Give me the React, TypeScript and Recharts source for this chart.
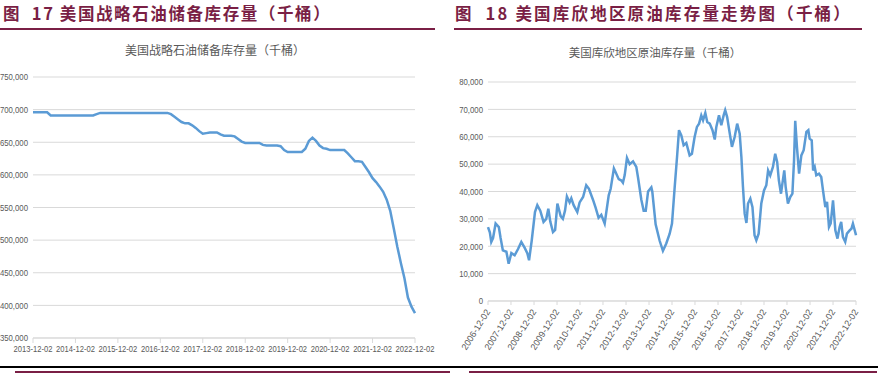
import { CartesianGrid, Line, LineChart, XAxis, YAxis } from "recharts";

const MAROON = "#7a1f45";
const LINE_BLUE = "#5b9bd5";
const GRID = "#d9d9d9";
const TICK_FONT = "'Liberation Sans', Arial, sans-serif";
const CJK_FONT = "'Noto Sans CJK SC', 'Noto Sans', sans-serif";

const SPR_HEADING = "图  17 美国战略石油储备库存量（千桶）";
const SPR_TITLE = "美国战略石油储备库存量（千桶）";
const CUSHING_HEADING = "图  18 美国库欣地区原油库存量走势图（千桶）";
const CUSHING_TITLE = "美国库欣地区原油库存量（千桶）";

// monthly, starting 2013-12-02 (thousand barrels)
const SPR_START = { year: 2013, month: 11 };
const SPR_VALUES = [
  696000,
  696000, 696000, 696000, 696000, 691000, 691000, 691000, 691000, 691000, 691000, 691000, 691000,
  691000, 691000, 691000, 691000, 691000, 693000, 695000, 695000, 695000, 695000, 695000, 695000,
  695000, 695000, 695000, 695000, 695000, 695000, 695000, 695000, 695000, 695000, 695000, 695000,
  695000, 695000, 693000, 689000, 685000, 681000, 679000, 679000, 676000, 672000, 667000, 663000,
  664000, 665000, 665000, 665000, 662000, 660000, 660000, 660000, 659000, 655000, 651000, 649000,
  649000, 649000, 649000, 649000, 646000, 645000, 645000, 645000, 645000, 644000, 638000, 635000,
  635000, 635000, 635000, 635000, 640000, 652000, 657000, 652000, 645000, 641000, 640000, 638000,
  638000, 638000, 638000, 638000, 633000, 627000, 621000, 621000, 620000, 612000, 604000, 595000,
  589000, 582000, 574000, 562000, 545000, 518000, 490000, 465000, 442000, 412000, 398000, 388000,
];
const SPR_Y_TICKS = [350000, 400000, 450000, 500000, 550000, 600000, 650000, 700000, 750000];

const CUSHING_DATES = [
  "2006-12-02", "2007-01-01", "2007-01-23", "2007-02-20", "2007-04-02", "2007-05-23", "2007-06-20",
  "2007-07-26", "2007-09-20", "2007-10-26", "2007-12-08", "2008-01-29", "2008-03-23", "2008-05-14",
  "2008-07-05", "2008-08-17", "2008-09-14", "2008-10-26", "2008-12-17", "2009-01-23", "2009-03-11",
  "2009-05-02", "2009-06-14", "2009-07-17", "2009-08-17", "2009-09-29", "2009-11-02", "2009-12-08",
  "2010-01-29", "2010-03-05", "2010-04-08", "2010-05-08", "2010-06-20", "2010-07-17", "2010-08-23",
  "2010-10-20", "2010-11-26", "2011-01-20", "2011-03-11", "2011-04-23", "2011-06-26", "2011-08-08",
  "2011-09-23", "2011-11-05", "2011-12-29", "2012-03-02", "2012-04-02", "2012-05-23", "2012-06-20",
  "2012-08-08", "2012-09-20", "2012-10-14", "2012-11-11", "2012-12-17", "2013-01-29", "2013-03-23",
  "2013-05-14", "2013-06-11", "2013-08-02", "2013-09-08", "2013-10-11", "2013-11-17", "2014-01-08",
  "2014-01-23", "2014-03-17", "2014-05-20", "2014-07-11", "2014-09-02", "2014-10-26", "2014-12-02",
  "2015-01-14", "2015-02-20", "2015-03-23", "2015-04-29", "2015-06-05", "2015-07-17", "2015-09-08",
  "2015-10-14", "2015-11-26", "2016-01-02", "2016-02-05", "2016-03-11", "2016-04-08", "2016-05-14",
  "2016-06-14", "2016-07-23", "2016-09-05", "2016-10-11", "2016-11-05", "2016-12-17", "2017-01-23",
  "2017-03-01", "2017-03-26", "2017-04-26", "2017-06-02", "2017-07-11", "2017-08-23", "2017-10-02",
  "2017-11-11", "2017-12-08", "2018-01-02", "2018-01-29", "2018-02-26", "2018-03-23", "2018-04-29",
  "2018-06-02", "2018-07-05", "2018-08-02", "2018-09-08", "2018-10-20", "2018-12-02", "2019-01-08",
  "2019-02-05", "2019-03-11", "2019-04-23", "2019-05-29", "2019-06-29", "2019-07-26", "2019-08-29",
  "2019-09-20", "2019-10-20", "2019-11-11", "2019-12-17", "2020-01-23", "2020-02-26", "2020-03-23",
  "2020-04-11", "2020-05-08", "2020-06-11", "2020-07-17", "2020-08-23", "2020-10-05", "2020-11-05",
  "2020-11-26", "2020-12-29", "2021-01-20", "2021-02-14", "2021-03-11", "2021-04-23", "2021-05-29",
  "2021-06-26", "2021-08-02", "2021-08-29", "2021-09-29", "2021-10-26", "2021-12-02", "2022-01-08",
  "2022-02-11", "2022-03-17", "2022-04-11", "2022-05-08", "2022-06-14", "2022-07-11", "2022-08-23",
  "2022-09-20", "2022-10-14", "2022-11-26", "2022-12-02",
];
const CUSHING_VALUES = [
  27000, 25000, 21600, 23000, 28300, 27000, 23000,
  18500, 18000, 13600, 17500, 16700, 19000, 21600,
  19500, 17500, 14900, 22000, 32500, 35000, 33000,
  28900, 30000, 33700, 29000, 25200, 26000, 35600,
  31000, 30000, 33000, 38200, 36000, 37500, 35000,
  32500, 36000, 38000, 42300, 41000, 37000, 34000,
  30400, 31500, 28300, 38600, 41000, 48400, 47000,
  44500, 44000, 43200, 46000, 52300, 50000, 51000,
  49000, 45000, 37000, 33000, 33000, 40000, 41500,
  40000, 28000, 22000, 18300, 21000, 24600, 28300,
  41700, 52600, 62400, 60500, 56900, 57700, 53200,
  53800, 59900, 63600, 64800, 67800, 66000, 68700,
  65400, 64800, 62400, 59000, 63600, 67800, 64200,
  67800, 69700, 67200, 61800, 56300, 59900, 64800,
  61100, 52600, 41700, 31900, 28500, 35600, 37400,
  34300, 24000, 22200, 24600, 35600, 40400, 42300,
  47700, 45900, 49000, 53800, 50800, 44100, 39200,
  42900, 47700, 41700, 35600, 38000, 39200, 51400,
  65800, 56300, 46500, 53200, 55100, 61800, 62400,
  59300, 58700, 47700, 49000, 45900, 46500, 45300,
  40400, 34300, 36200, 27000, 28300, 36800, 25800,
  22800, 27000, 28900, 23400, 21600, 24600, 25800,
  26400, 28300, 24600, 24000,
];
const CUSHING_Y_TICKS = [0, 10000, 20000, 30000, 40000, 50000, 60000, 70000, 80000];
const CUSHING_X_TICKS = [
  "2006-12-02", "2007-12-02", "2008-12-02", "2009-12-02", "2010-12-02", "2011-12-02",
  "2012-12-02", "2013-12-02", "2014-12-02", "2015-12-02", "2016-12-02", "2017-12-02",
  "2018-12-02", "2019-12-02", "2020-12-02", "2021-12-02", "2022-12-02",
];

const sprData = SPR_VALUES.map((v, i) => ({
  date: new Date(Date.UTC(SPR_START.year, SPR_START.month + i, 2)).toISOString().slice(0, 10),
  value: v,
}));
const cushingData = CUSHING_DATES.map((d, i) => ({ t: Date.parse(d), value: CUSHING_VALUES[i] }));
const cushingTicks = CUSHING_X_TICKS.map((d) => Date.parse(d));

const fmtNum = (v: number) => v.toLocaleString("en-US");
const fmtDate = (v: number) => new Date(v).toISOString().slice(0, 10);

// the source uses a condensed face; squeeze Liberation Sans horizontally
function NarrowYTick({ x, y, payload }: any) {
  return (
    <g transform={`translate(${x},${y}) scale(0.82,1)`}>
      <text x={0} y={0} dy="0.35em" textAnchor="end" fill="#595959" fontSize={9.5} fontFamily={TICK_FONT}>
        {fmtNum(payload.value)}
      </text>
    </g>
  );
}

function NarrowXTick({ x, y, payload }: any) {
  return (
    <g transform={`translate(${x},${y}) scale(0.8,1)`}>
      <text x={0} y={0} dy="0.71em" textAnchor="middle" fill="#595959" fontSize={9.5} fontFamily={TICK_FONT}>
        {payload.value}
      </text>
    </g>
  );
}

function RotatedTick({ x, y, payload }: any) {
  return (
    <text
      x={x}
      y={y}
      dy="0.35em"
      transform={`rotate(-58 ${x} ${y})`}
      textAnchor="end"
      fill="#595959"
      fontSize={9}
      fontFamily={TICK_FONT}
    >
      {fmtDate(payload.value)}
    </text>
  );
}

const heading = (text: string, left: number, spacing: number) => (
  <div
    style={{
      position: "absolute",
      left,
      top: 3,
      fontFamily: CJK_FONT,
      fontWeight: 700,
      fontSize: 16.5,
      letterSpacing: spacing,
      lineHeight: "20px",
      color: MAROON,
      whiteSpace: "pre",
    }}
  >
    {text}
  </div>
);

const subTitle = (text: string, center: number, top: number, size: number) => (
  <div
    style={{
      position: "absolute",
      left: center - 120,
      width: 240,
      top,
      textAlign: "center",
      fontFamily: CJK_FONT,
      fontSize: size,
      lineHeight: "16px",
      color: "#595959",
    }}
  >
    {text}
  </div>
);

const hLine = (left: number, width: number, top: number, color: string, h: number) => (
  <div style={{ position: "absolute", left, width, top, height: h, background: color }} />
);

export default function App() {
  return (
    <div
      style={{
        position: "absolute",
        left: 0,
        top: 0,
        width: 878,
        height: 378,
        background: "#fff",
        overflow: "hidden",
      }}
    >
      {heading(SPR_HEADING, 3, 1.6)}
      {heading(CUSHING_HEADING, 455, 2.2)}
      {hLine(0, 435, 28, MAROON, 1.5)}
      {hLine(454, 408, 28, MAROON, 1.5)}
      {subTitle(SPR_TITLE, 215, 42, 12)}
      {subTitle(CUSHING_TITLE, 655, 44, 11.5)}

      <div style={{ position: "absolute", left: 0, top: 60 }}>
        <LineChart width={442} height={300} data={sprData} margin={{ top: 17, right: 27, bottom: 4, left: 3 }}>
          <CartesianGrid stroke={GRID} vertical={false} />
          <XAxis
            dataKey="date"
            interval={11}
            tick={<NarrowXTick />}
            stroke={GRID}
            tickSize={5}
            tickMargin={2}
            height={18}
          />
          <YAxis
            domain={[350000, 750000]}
            ticks={SPR_Y_TICKS}
            tick={<NarrowYTick />}
            axisLine={false}
            tickLine={false}
            tickSize={0}
            tickMargin={5}
            width={30}
          />
          <Line
            type="linear"
            dataKey="value"
            stroke={LINE_BLUE}
            strokeWidth={2.5}
            dot={false}
            isAnimationActive={false}
          />
        </LineChart>
      </div>

      <div style={{ position: "absolute", left: 440, top: 60 }}>
        <LineChart width={430} height={300} data={cushingData} margin={{ top: 22, right: 14, bottom: 4, left: 8 }}>
          <CartesianGrid stroke={GRID} vertical={false} />
          <XAxis
            dataKey="t"
            type="number"
            domain={[cushingTicks[0], cushingTicks[cushingTicks.length - 1]]}
            ticks={cushingTicks}
            interval={0}
            tick={<RotatedTick />}
            stroke={GRID}
            tickSize={4}
            tickMargin={5}
            height={55}
          />
          <YAxis
            domain={[0, 80000]}
            ticks={CUSHING_Y_TICKS}
            tick={<NarrowYTick />}
            axisLine={false}
            tickLine={false}
            tickSize={0}
            tickMargin={5}
            width={40}
          />
          <Line
            type="linear"
            dataKey="value"
            stroke={LINE_BLUE}
            strokeWidth={2.5}
            dot={false}
            isAnimationActive={false}
          />
        </LineChart>
      </div>

      {hLine(0, 878, 366, "#000", 1.5)}
      {hLine(15, 435, 371, MAROON, 1.5)}
      {hLine(469, 408, 371, MAROON, 1.5)}
    </div>
  );
}
